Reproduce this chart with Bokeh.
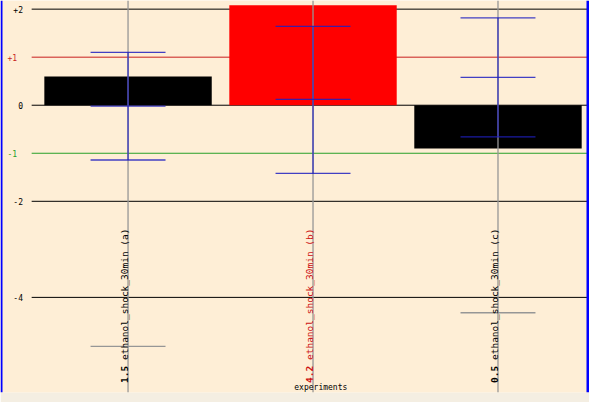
import math
from bokeh.plotting import figure
from bokeh.models import Range1d, Span
from bokeh.core.properties import value
from bokeh.embed import file_html
from bokeh.resources import INLINE

# ---------------- data ----------------
categories = ["ethanol_shock_30min (a)", "ethanol_shock_30min (b)", "ethanol_shock_30min (c)"]
scores = ["1.5", "4.2", "0.5"]
label_colors = ["#000000", "#CC1111", "#000000"]
bar_values = [0.60, 2.08, -0.90]
bar_colors = ["#000000", "#FF0000", "#000000"]
err_high = [1.10, 1.64, 1.82]
err_mid = [-0.02, 0.12, 0.58]
err_low = [-1.14, -1.42, -0.66]
gray_low = [-5.02, float("nan"), -4.32]
tick_values = [2, 1, 0, -1, -2, -4]
tick_labels = ["+2", "+1", "0", "-1", "-2", "-4"]
tick_colors = ["#000000", "#C81E1E", "#000000", "#28A028", "#000000", "#000000"]
x_title = "experiments"

# ---------------- layout constants ----------------
W, H = 589, 402
STRIP = 10
X0, X1 = -0.6895, 2.4947
Y0, Y1 = -5.98, 2.18
BG = "#FEEED6"
BLUE = "#2020C0"
GRAY = "#969696"
MONO = value("DejaVu Sans Mono")

xs = list(range(len(categories)))

p = figure(width=W, height=H, output_backend="svg", toolbar_location=None,
           x_range=Range1d(X0, X1), y_range=Range1d(Y0, Y1),
           min_border_left=0, min_border_right=0, min_border_top=0,
           min_border_bottom=STRIP)
p.axis.visible = False
p.grid.visible = False
p.outline_line_color = None
p.background_fill_color = BG
p.border_fill_color = "#F4EEE2"

px_y = (H - STRIP) / (Y1 - Y0)   # pixels per y unit
px_x = W / (X1 - X0)             # pixels per x unit

# horizontal reference lines (under the bars)
line_start = -0.521
p.segment(x0=[line_start] * len(tick_values), x1=[X1] * len(tick_values),
          y0=tick_values, y1=tick_values, line_color=tick_colors, line_width=1)

# tick labels
for v, lab, col in zip(tick_values, tick_labels, tick_colors):
    xr = -0.568 if col == "#000000" else -0.600
    p.text(x=[xr], y=[v], text=[lab], text_color=col, text_font=MONO,
           text_font_size="8px", text_align="right", text_baseline="alphabetic")

# bars
p.vbar(x=xs, top=bar_values, bottom=0, width=0.905, fill_color=bar_colors,
       line_color=None)

# gray category lines (over the bars)
p.segment(x0=xs, x1=xs, y0=[Y0] * len(xs), y1=[Y1] * len(xs),
          line_color=GRAY, line_width=1.3)

# gray low caps
cap = 0.2026
p.segment(x0=[x - cap for x in xs], x1=[x + cap for x in xs],
          y0=gray_low, y1=gray_low, line_color=GRAY, line_width=1.3)

# blue error bars
p.segment(x0=xs, x1=xs, y0=err_low, y1=err_high, line_color=BLUE,
          line_alpha=0.85, line_width=1.3)
for arr in (err_high, err_mid, err_low):
    p.segment(x0=[x - cap for x in xs], x1=[x + cap for x in xs],
              y0=arr, y1=arr, line_color=BLUE, line_alpha=0.85, line_width=1.3)

# vertical category labels
fs = 9.5
char_w = 0.602 * fs
y_start = -5.78
x_shift = -3.5 / px_x
for x, sc, name, col in zip(xs, scores, categories, label_colors):
    p.text(x=[x + x_shift], y=[y_start], text=[sc], angle=math.pi / 2,
           text_color=col, text_font=MONO, text_font_size=f"{fs}px",
           text_font_style="bold", text_align="left", text_baseline="middle")
    p.text(x=[x + x_shift], y=[y_start + (len(sc) + 1) * char_w / px_y],
           text=[name], angle=math.pi / 2, text_color=col, text_font=MONO,
           text_font_size=f"{fs}px", text_align="left", text_baseline="middle")

# x title
p.text(x=[1.042], y=[Y0 + 0.01], text=[x_title], text_color="#000000",
       text_font=MONO, text_font_size="8px", text_align="center",
       text_baseline="bottom")

# blue side borders
p.add_layout(Span(location=X0 + 1.0 / px_x, dimension="height",
                  line_color="#0000FF", line_width=2))
p.add_layout(Span(location=X1 - 1.5 / px_x, dimension="height",
                  line_color="#0000FF", line_width=3))

open("out.html", "w").write(file_html(p, INLINE))
